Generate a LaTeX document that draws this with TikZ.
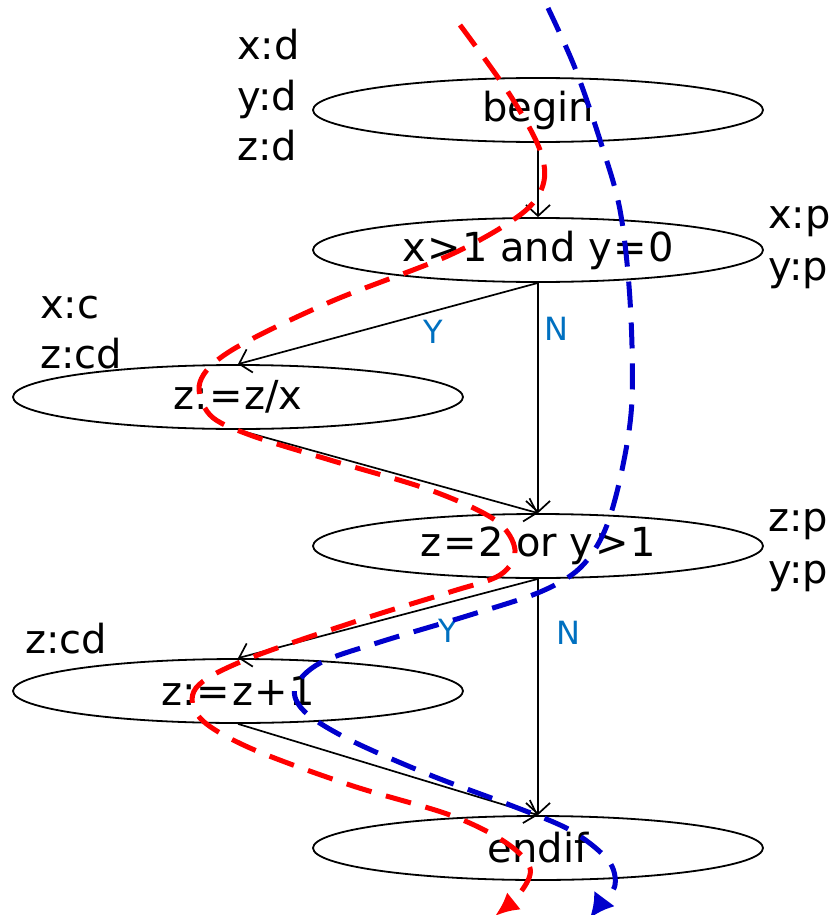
\documentclass[tikz,border=0pt]{standalone}
\usepackage{fontspec}
\setmainfont{DejaVu Sans}
\usetikzlibrary{shapes.geometric,arrows.meta}
\definecolor{lblue}{RGB}{0,112,192}
\newcommand{\sk}{\kern1.5pt}
\begin{document}
\begin{tikzpicture}[x=1pt,y=-1pt,
  el/.style={draw,ellipse,line width=1.8pt,minimum width=450pt,minimum height=64pt,inner sep=0pt,font=\fontsize{40}{48}\selectfont},
  arr/.style={draw,line width=1.7pt,-{Straight Barb[length=11pt,width=24pt,line width=1.7pt]}},
  ann/.style={anchor=base west,inner sep=0pt,font=\fontsize{40}{48}\selectfont},
  yn/.style={text=lblue,inner sep=0pt,font=\fontsize{32}{38}\selectfont},
  rpath/.style={draw=red,line width=5pt,dash pattern=on 26pt off 15pt},
  bpath/.style={draw=blue!80!black,line width=5pt,dash pattern=on 26pt off 15pt}]
\useasboundingbox (0,0) rectangle (832,915);
\node[el] (begin) at (538,110) {begin};
\node[el] (c1) at (538,250) {x\sk>\sk1 and y\sk=\sk0};
\node[el] (s1) at (238,397) {z:\sk=\sk z/x};
\node[el] (c2) at (538,546) {z\sk=\sk2 or y\sk>\sk1};
\node[el] (s2) at (238,691) {z:\sk=\sk z\sk+\sk1};
\node[el] (endif) at (538,848) {endif};
\draw[arr] (begin.south) -- (c1.north);
\draw[arr] (c1.south) -- node[yn,pos=0.35,below=8pt] (y1) {Y} (s1.north);
\draw[arr] (c1.south) -- node[yn,pos=0.2,right=6pt] (n1) {N} (c2.north);
\draw[arr] (s1.south) -- (c2.north);
\draw[arr] (c2.south) -- node[yn,pos=0.3,below=16pt] (y2) {Y} (s2.north);
\draw[arr] (c2.south) -- node[yn,pos=0.23,right=18pt] (n2) {N} (endif.north);
\draw[arr] (s2.south) -- (endif.north);
\node[ann] (a1) at (237,60) {x:d};
\node[ann] (a2) at (237,111) {y:d};
\node[ann] (a3) at (237,160) {z:d};
\node[ann] (b1) at (768,228) {x:p};
\node[ann] (b2) at (768,280) {y:p};
\node[ann] (c1a) at (40,318) {x:c};
\node[ann] (c2a) at (40,368) {z:cd};
\node[ann] (d1) at (768,531) {z:p};
\node[ann] (d2) at (768,583) {y:p};
\node[ann] (e1) at (25,653) {z:cd};
\draw[rpath,-{Latex[length=24pt,width=22pt]}] plot[smooth,tension=0.55] coordinates {
 (460,25) (510,95) (540,150) (543,185) (520,215) (450,255) (330,302) (232,350) (200,382) (210,415) (250,435)
 (330,460) (430,490) (495,520) (515,550) (500,575) (450,592) (360,620) (245,660) (196,688) (200,718) (250,748)
 (350,785) (450,815) (505,842) (530,868) (520,893) (495,916)};
\draw[bpath,-{Latex[length=24pt,width=26pt]}] plot[smooth,tension=0.55] coordinates {
 (548,8) (575,68) (600,140) (620,210) (630,300) (632,400) (622,470) (605,530) (580,568) (540,592) (470,615) (380,642)
 (320,663) (295,688) (305,712) (350,740) (430,775) (510,805) (570,830) (608,860) (615,885) (602,902) (590,918)};
\end{tikzpicture}
\end{document}
